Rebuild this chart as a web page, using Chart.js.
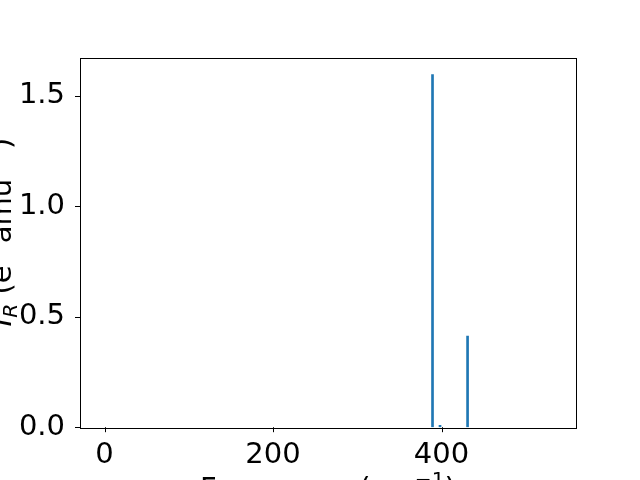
<!DOCTYPE html>
<html>
<head>
<meta charset="utf-8">
<script src="https://cdn.jsdelivr.net/npm/chart.js@4"></script>
<style>
  html, body { margin: 0; padding: 0; background: #fff; }
  #chart-wrap { width: 640px; height: 480px; }
</style>
</head>
<body>
<div id="chart-wrap"><canvas id="ir-chart" width="640" height="480"></canvas></div>
<script>
// data
const gFrequencies = [389.3, 398.2, 430.9];
const gIntensities = [1.595, 0.009, 0.412];
const gXTicks = [0, 200, 400];
const gYTicks = [0.0, 0.5, 1.0, 1.5];
const gXLimits = [-29.1, 559.6];
const gYLimits = [0, 1.672];

const G_FONT = "'DejaVu Sans'";
const G_FONT_SIZE = 29;
const G_BLUE = '#1f77b4';

// draw a list of text pieces (normal / sup / sub) on one baseline, centered on x=0
function drawRichText(pCtx, pPieces, pSize) {
  let vTotal = 0;
  pPieces.forEach((p) => {
    let vSize = p.s ? pSize * 0.7 : pSize;
    pCtx.font = (p.i ? 'italic ' : '') + vSize + 'px ' + G_FONT;
    p.w = pCtx.measureText(p.t).width;
    vTotal += p.w;
  });
  let vX = -vTotal / 2;
  pPieces.forEach((p) => {
    let vSize = p.s ? pSize * 0.7 : pSize;
    pCtx.font = (p.i ? 'italic ' : '') + vSize + 'px ' + G_FONT;
    let vDy = 0;
    if (p.s === 'sup') vDy = -pSize * 0.4;
    if (p.s === 'sub') vDy = pSize * 0.2;
    pCtx.fillText(p.t, vX, vDy);
    vX += p.w;
  });
}

const axisLabelPlugin = {
  id: 'axisLabels',
  afterDraw(chart) {
    const ctx = chart.ctx;
    const area = chart.chartArea;
    ctx.save();
    // frame (all four spines)
    ctx.strokeStyle = '#000';
    ctx.lineWidth = 1;
    ctx.strokeRect(Math.round(area.left) + 0.5, Math.round(area.top) + 0.5,
      Math.round(area.right - area.left), Math.round(area.bottom - area.top));

    // tick marks, placed by the chart's own scales
    ctx.beginPath();
    const xScale = chart.scales.x;
    const yScale = chart.scales.y;
    gXTicks.forEach((v) => {
      let vPx = Math.round(xScale.getPixelForValue(v)) + 0.5;
      ctx.moveTo(vPx, area.bottom);
      ctx.lineTo(vPx, area.bottom + 5);
    });
    gYTicks.forEach((v) => {
      let vPy = Math.round(yScale.getPixelForValue(v)) + 0.5;
      ctx.moveTo(area.left, vPy);
      ctx.lineTo(area.left - 5, vPy);
    });
    ctx.stroke();

    ctx.fillStyle = '#000';
    ctx.textAlign = 'left';
    ctx.textBaseline = 'alphabetic';

    // x label
    ctx.save();
    ctx.translate((area.left + area.right) / 2, 498);
    drawRichText(ctx, [
      { t: 'Frequency (cm' },
      { t: '\u22121', s: 'sup' },
      { t: ')' },
    ], G_FONT_SIZE);
    ctx.restore();

    // y label
    ctx.save();
    ctx.translate(11, 232);
    ctx.rotate(-Math.PI / 2);
    drawRichText(ctx, [
      { t: 'I', i: true },
      { t: 'R', i: true, s: 'sub' },
      { t: ' (e' },
      { t: '2', s: 'sup' },
      { t: ' amu' },
      { t: '\u22121', s: 'sup' },
      { t: ')' },
    ], G_FONT_SIZE);
    ctx.restore();

    ctx.restore();
  },
};

const gChartData = {
  datasets: [
    {
      label: 'IR',
      data: gFrequencies.map((f, i) => ({ x: f, y: gIntensities[i] })),
      backgroundColor: G_BLUE,
      borderWidth: 0,
      barThickness: 2,
    },
  ],
};

new Chart(document.getElementById('ir-chart'), {
  type: 'bar',
  data: gChartData,
  options: {
    responsive: false,
    animation: false,
    maintainAspectRatio: false,
    devicePixelRatio: 1,
    layout: { padding: { top: 57.6, right: 64, left: 0, bottom: 0 } },
    plugins: { legend: { display: false }, tooltip: { enabled: false } },
    scales: {
      x: {
        type: 'linear',
        min: gXLimits[0],
        max: gXLimits[1],
        offset: false,
        afterBuildTicks: (scale) => { scale.ticks = gXTicks.map((v) => ({ value: v })); },
        afterFit: (scale) => { scale.height = 52.8; },
        grid: { display: false, tickLength: 5 },
        border: { display: false },
        ticks: {
          color: '#000',
          padding: 6,
          maxRotation: 0,
          font: { family: G_FONT, size: G_FONT_SIZE },
          callback: (v) => String(v),
        },
      },
      y: {
        min: gYLimits[0],
        max: gYLimits[1],
        afterBuildTicks: (scale) => { scale.ticks = gYTicks.map((v) => ({ value: v })); },
        afterFit: (scale) => { scale.width = 80; },
        grid: { display: false, tickLength: 5 },
        border: { display: false },
        ticks: {
          color: '#000',
          padding: 10,
          font: { family: G_FONT, size: G_FONT_SIZE },
          callback: (v) => Number(v).toFixed(1),
        },
      },
    },
  },
  plugins: [axisLabelPlugin],
});
</script>
</body>
</html>
